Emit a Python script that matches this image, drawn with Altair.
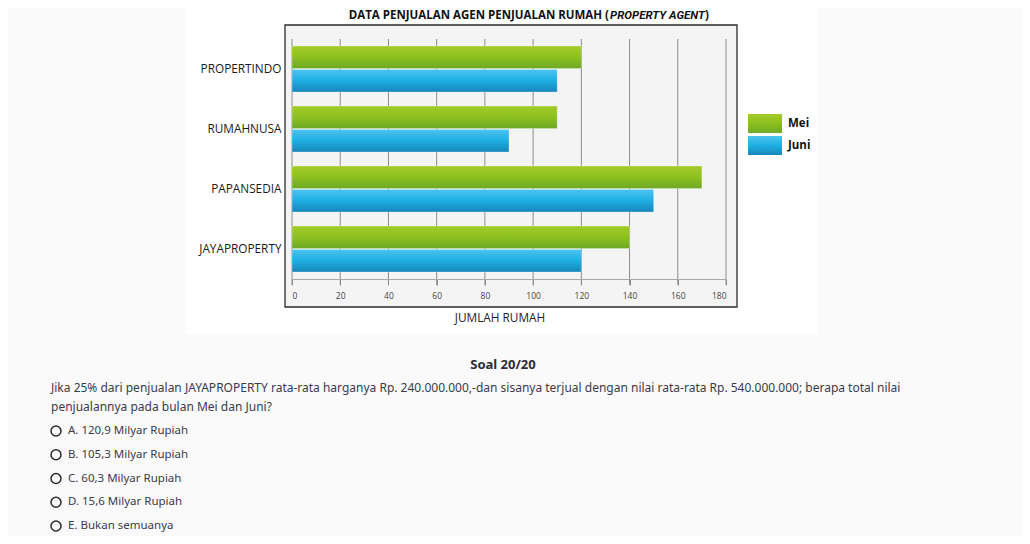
import altair as alt
import pandas as pd

agents = ["PROPERTINDO", "RUMAHNUSA", "PAPANSEDIA", "JAYAPROPERTY"]
mei = [120, 110, 170, 140]
juni = [110, 90, 150, 120]
months = ["Mei", "Juni"]
ticks = [0, 20, 40, 60, 80, 100, 120, 140, 160, 180]

title_main = "DATA PENJUALAN AGEN PENJUALAN RUMAH ("
title_ital = "PROPERTY AGENT"
x_title = "JUMLAH RUMAH"
soal = "Soal 20/20"
question = [
    "Jika 25% dari penjualan JAYAPROPERTY rata-rata harganya Rp. 240.000.000,-dan sisanya terjual dengan nilai rata-rata Rp. 540.000.000; berapa total nilai",
    "penjualannya pada bulan Mei dan Juni?",
]
options = [
    "A. 120,9 Milyar Rupiah",
    "B. 105,3 Milyar Rupiah",
    "C. 60,3 Milyar Rupiah",
    "D. 15,6 Milyar Rupiah",
    "E. Bukan semuanya",
]

rows = []
for a, m, j in zip(agents, mei, juni):
    rows.append({"agent": a, "month": "Mei", "value": m})
    rows.append({"agent": a, "month": "Juni", "value": j})
df = pd.DataFrame(rows)
tick_df = pd.DataFrame({"v": ticks})
one = pd.DataFrame({"k": [0]})

CHART_FONT = "Open Sans"
Q_FONT = "Noto Sans"

green = alt.Gradient(gradient="linear", x1=0, x2=0, y1=0, y2=1, stops=[
    alt.GradientStop(color="#a4cc2a", offset=0),
    alt.GradientStop(color="#8cc01e", offset=0.5),
    alt.GradientStop(color="#6ea926", offset=1),
])
blue = alt.Gradient(gradient="linear", x1=0, x2=0, y1=0, y2=1, stops=[
    alt.GradientStop(color="#4cc4f0", offset=0),
    alt.GradientStop(color="#1eaee3", offset=0.5),
    alt.GradientStop(color="#1886bb", offset=1),
])

xscale = alt.Scale(domain=[0, 180], nice=False, zero=True)
yscale = alt.Scale(domain=agents, paddingInner=0.2333, paddingOuter=0.1167)
yoff = alt.Scale(domain=months, paddingInner=0.04)

xaxis = alt.Axis(title=None, values=ticks, grid=False, domainColor="#a8a8a8",
                 tickColor="#8c8c8c", tickSize=6, labelPadding=6, zindex=2,
                 labelFontSize=8.5, labelColor="#444444", labelFont=CHART_FONT)
yaxis = alt.Axis(title=None, domain=False, ticks=False, labelPadding=11, zindex=2,
                 labelFontSize=11.8, labelColor="#1a1a1a", labelFont=CHART_FONT)

box = alt.Chart(one).mark_rect(fill="white").encode(
    x=alt.value(-106), x2=alt.value(526), y=alt.value(-37), y2=alt.value(295))
frame = alt.Chart(one).mark_rect(fill="#f4f4f4", stroke="#2b2b2b", strokeWidth=1.3).encode(
    x=alt.value(-7), x2=alt.value(445), y=alt.value(-14), y2=alt.value(268))
grid = alt.Chart(tick_df).mark_rule(color="#8c8c8c", strokeWidth=1).encode(
    x=alt.X("v:Q", scale=xscale, axis=xaxis), y=alt.value(0), y2=alt.value(246))

def bars(month, grad):
    return alt.Chart(df).transform_filter(alt.datum.month == month).mark_bar(
        color=grad, stroke="#ffffff", strokeOpacity=0.35, strokeWidth=0.8
    ).encode(
        x=alt.X("value:Q", scale=xscale, axis=xaxis),
        y=alt.Y("agent:N", scale=yscale, sort=agents, axis=yaxis),
        yOffset=alt.YOffset("month:N", scale=yoff, sort=months),
    )

bars_mei = bars("Mei", green)
bars_juni = bars("Juni", blue)

leg_g = alt.Chart(one).mark_rect(color=green).encode(
    x=alt.value(456), x2=alt.value(490), y=alt.value(75), y2=alt.value(94))
leg_b = alt.Chart(one).mark_rect(color=blue).encode(
    x=alt.value(456), x2=alt.value(490), y=alt.value(97), y2=alt.value(116))
leg_t1 = alt.Chart(one).mark_text(text=months[0], align="left", baseline="middle", font=CHART_FONT,
                                 fontSize=11.5, fontWeight="bold", color="#111").encode(
    x=alt.value(496), y=alt.value(85))
leg_t2 = alt.Chart(one).mark_text(text=months[1], align="left", baseline="middle", font=CHART_FONT,
                                 fontSize=11.5, fontWeight="bold", color="#111").encode(
    x=alt.value(496), y=alt.value(107))

t1 = alt.Chart(one).mark_text(text=title_main, align="right", baseline="middle", font=CHART_FONT,
                              fontSize=11.5, fontWeight="bold", color="#111").encode(
    x=alt.value(317), y=alt.value(-23))
t2 = alt.Chart(one).mark_text(text=title_ital, align="left", baseline="middle", font="Roboto",
                              fontSize=11.5, fontWeight="bold", fontStyle="italic", color="#111").encode(
    x=alt.value(318), y=alt.value(-23))
t3 = alt.Chart(one).mark_text(text=")", align="left", baseline="middle", font=CHART_FONT,
                              fontSize=11.5, fontWeight="bold", color="#111").encode(
    x=alt.value(413), y=alt.value(-23))
xt = alt.Chart(one).mark_text(text=x_title, align="center", baseline="middle", font=CHART_FONT,
                              fontSize=11.8, color="#222").encode(
    x=alt.value(208), y=alt.value(279))

qlayers = []
qlayers.append(alt.Chart(one).mark_text(text=soal, align="center", baseline="middle", font=Q_FONT,
                                        fontSize=13, fontWeight="bold", color="#2c2c3a").encode(
    x=alt.value(211), y=alt.value(326)))
for i, line in enumerate(question):
    qlayers.append(alt.Chart(one).mark_text(text=line, align="left", baseline="middle", font=Q_FONT,
                                            fontSize=12, color="#3a3a4c").encode(
        x=alt.value(-241), y=alt.value(349 + 19 * i)))
for i, opt in enumerate(options):
    yy = 392 + 23.75 * i
    qlayers.append(alt.Chart(one).mark_point(shape="circle", filled=False, size=100, color="#2a2a2a",
                                             strokeWidth=1.5, opacity=1).encode(
        x=alt.value(-236), y=alt.value(yy)))
    qlayers.append(alt.Chart(one).mark_text(text=opt, align="left", baseline="middle", font=Q_FONT,
                                            fontSize=11.5, color="#3a3a4c").encode(
        x=alt.value(-224), y=alt.value(yy)))

chart = alt.layer(box, frame, grid, bars_mei, bars_juni, leg_g, leg_b, leg_t1, leg_t2,
                  t1, t2, t3, xt, *qlayers).properties(
    width=434, height=240,
    padding={"left": 284, "top": 31, "right": 296, "bottom": 257},
    autosize=alt.AutoSizeParams(type="none"),
    background="#fafafa",
).configure_view(stroke=None)

chart.save("out.html", embed_options={"renderer": "svg", "actions": False})
